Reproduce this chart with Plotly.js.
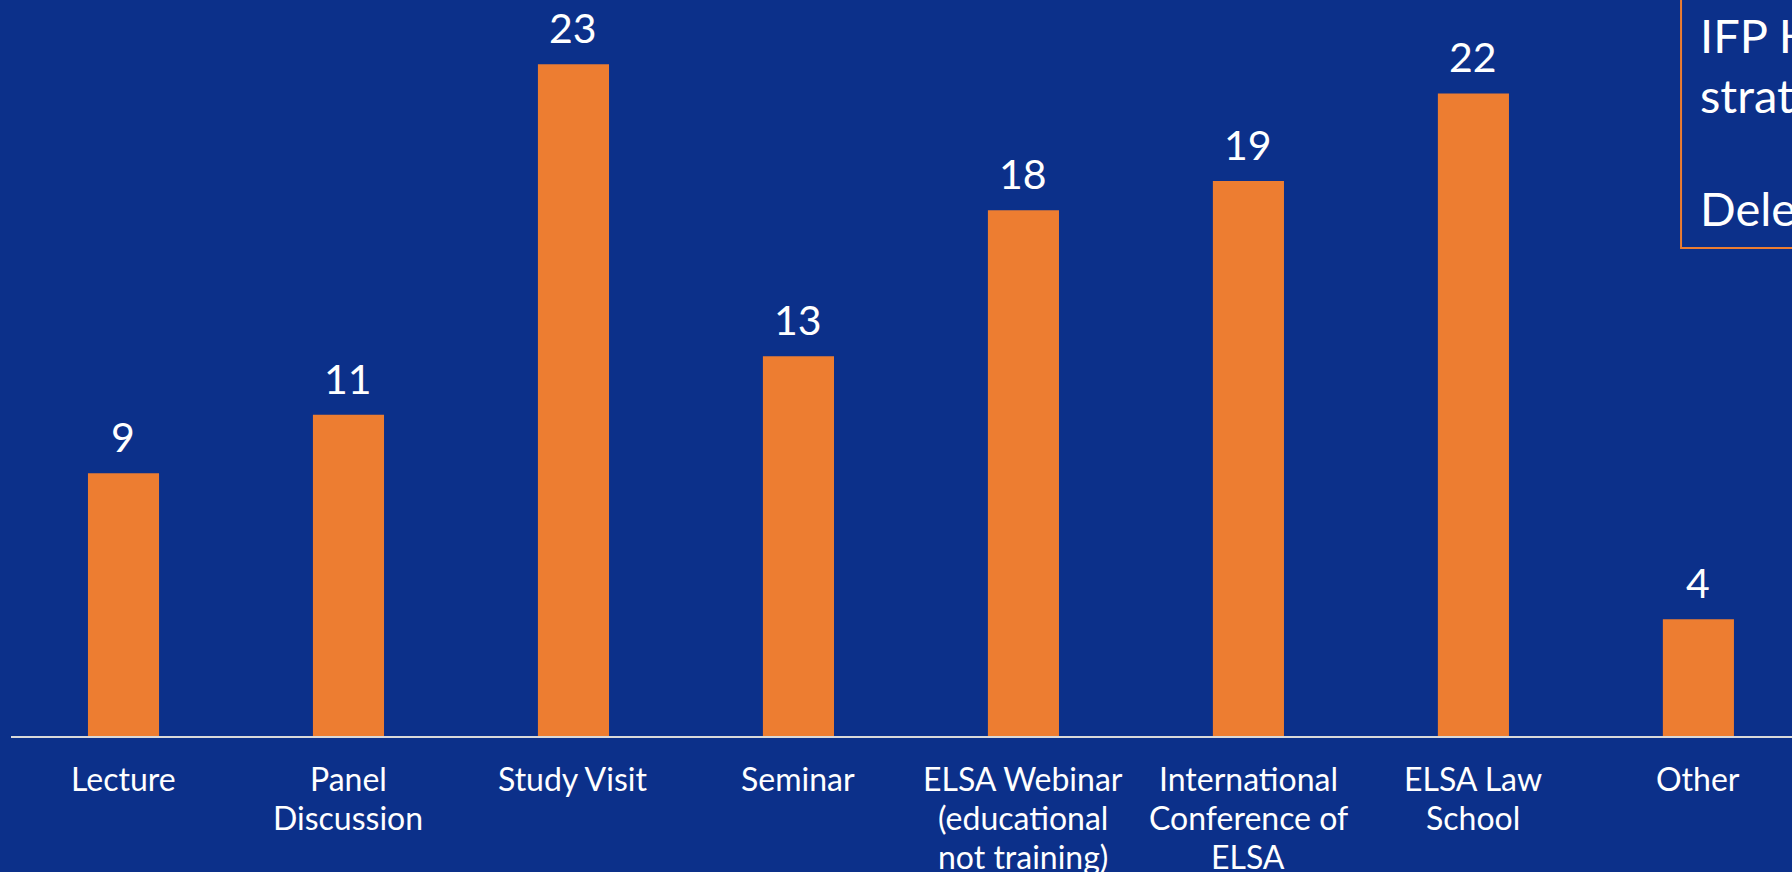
<!DOCTYPE html>
<html>
<head>
<meta charset="utf-8">
<script src="https://cdn.plot.ly/plotly-3.0.1.min.js"></script>
<style>html,body{margin:0;padding:0;background:#0C308A;}#chart{width:1792px;height:872px;}</style>
</head>
<body>
<div id="chart"></div>
<script>
const categories = ["Lecture", "Panel<br>Discussion", "Study Visit", "Seminar", "ELSA Webinar<br>(educational<br>not training)", "International<br>Conference of<br>ELSA", "ELSA Law<br>School", "Other"];
const values = [9, 11, 23, 13, 18, 19, 22, 4];
const boxLines = ["IFP Handbook", "strategy", "Delegates"];

const bg = "#0C308A";
const orange = "#ED7D31";
const plotH = 736;

const annotations = categories.map((c, i) => ({
  x: i, y: values[i], xref: "x", yref: "y",
  text: String(values[i]), showarrow: false,
  yanchor: "bottom", yshift: 10,
  font: {family: "Lato", size: 41, color: "#ffffff"}
}));

// category labels, one annotation per line (tighter line spacing than tick labels)
categories.forEach((c, i) => {
  c.split("<br>").forEach((line, k) => annotations.push({
    x: i, xref: "x", yref: "paper",
    y: (plotH - (778 + 39 * k)) / plotH,
    text: line, showarrow: false, xanchor: "center", yanchor: "middle",
    font: {family: "Lato", size: 32, color: "#ffffff"}
  }));
});

const boxY = [0.952, 0.8705, 0.717];
boxLines.forEach((t, k) => annotations.push({
  x: 0.9472, y: boxY[k], xref: "paper", yref: "paper",
  text: t, showarrow: false, xanchor: "left", yanchor: "middle",
  font: {family: "Lato", size: 47, color: "#ffffff"}
}));

const trace = {
  type: "bar", x: categories.map((c, i) => i), y: values,
  marker: {color: orange, line: {width: 0}},
  hoverinfo: "skip"
};

const layout = {
  width: 1792, height: 872,
  paper_bgcolor: bg, plot_bgcolor: bg,
  margin: {l: 11, r: 0, t: 0, b: 136, pad: 0},
  bargap: 0.684,
  showlegend: false,
  font: {family: "Lato", color: "#ffffff"},
  xaxis: {
    range: [-0.5, 7.416],
    showticklabels: false,
    showgrid: false, zeroline: false,
    showline: true, linecolor: "#D9D9D9", linewidth: 2,
    ticks: "", fixedrange: true
  },
  yaxis: {
    range: [0, 25.2], visible: false, showgrid: false, zeroline: false, fixedrange: true
  },
  annotations: annotations,
  shapes: [{
    type: "rect", xref: "paper", yref: "paper",
    x0: 0.9377, x1: 1.1, y0: 0.663, y1: 1.1,
    line: {color: orange, width: 2}, fillcolor: "rgba(0,0,0,0)", layer: "above"
  }]
};

Plotly.newPlot("chart", [trace], layout, {displayModeBar: false, staticPlot: true});
</script>
</body>
</html>
